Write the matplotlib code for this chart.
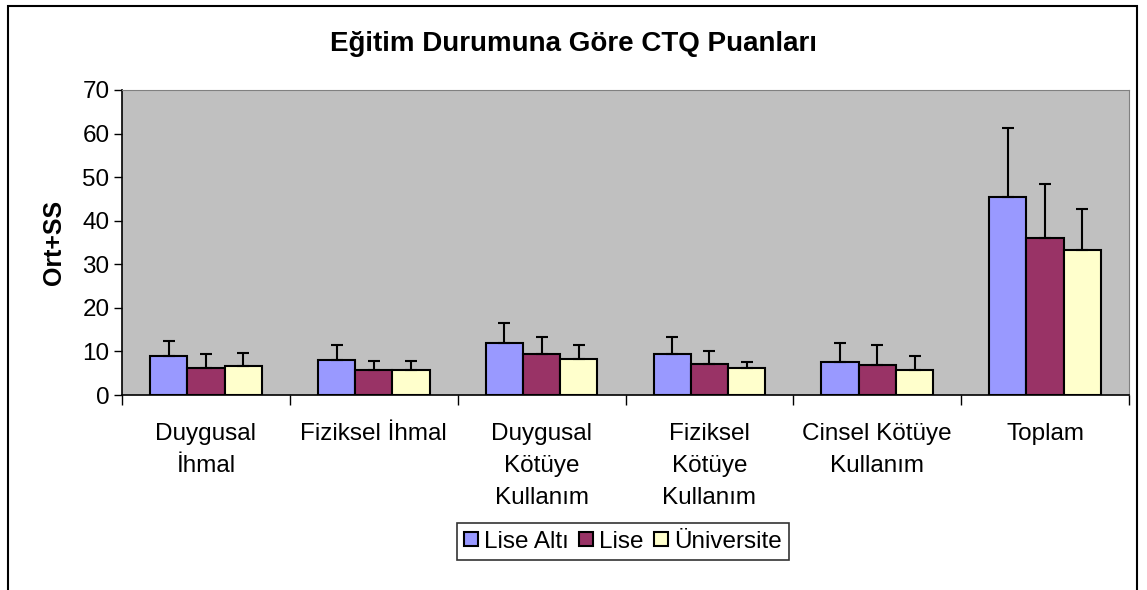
import numpy as np
import matplotlib
matplotlib.use("Agg")
from matplotlib import pyplot as plt
from matplotlib.patches import Rectangle

plt.rcParams['font.family'] = ['Liberation Sans', 'DejaVu Sans']

categories = ["Duygusal\nİhmal", "Fiziksel İhmal", "Duygusal\nKötüye\nKullanım",
              "Fiziksel\nKötüye\nKullanım", "Cinsel Kötüye\nKullanım", "Toplam"]
groups = ["Lise Altı", "Lise", "Üniversite"]
colors = ["#9999FF", "#993366", "#FFFFCC"]

lise_alti = [8.9, 8.0, 11.9, 9.3, 7.5, 45.4]
lise = [6.1, 5.7, 9.3, 7.1, 7.0, 36.0]
universite = [6.7, 5.7, 8.3, 6.2, 5.7, 33.3]

lise_alti_ss = [3.5, 3.5, 4.6, 4.1, 4.5, 15.9]
lise_ss = [3.2, 2.2, 4.1, 3.0, 4.5, 12.4]
universite_ss = [2.9, 2.2, 3.2, 1.3, 3.2, 9.5]

means = [lise_alti, lise, universite]
sds = [lise_alti_ss, lise_ss, universite_ss]

fig = plt.figure(figsize=(11.47, 5.90), dpi=100)
ax = fig.add_axes([0.1064, 0.3305, 0.8779, 0.517])
ax.set_facecolor("#C0C0C0")

x = np.arange(len(categories))
w = 0.222
for i in range(3):
    pos = x + (i - 1) * w
    ax.bar(pos, means[i], w, color=colors[i], edgecolor="black", linewidth=1.5,
           label=groups[i], zorder=2)
    ax.errorbar(pos, means[i], yerr=[np.zeros(len(x)), sds[i]], fmt="none",
                ecolor="black", elinewidth=1.5, capsize=4.5, capthick=1.5, zorder=3)

ax.set_xlim(-0.5, len(categories) - 0.5)
ax.set_ylim(0, 70)
ax.set_yticks(range(0, 71, 10))
ax.tick_params(axis="y", labelsize=17.5, direction="out", length=6, width=1, pad=3)
ax.set_xticks(x)
ax.set_xticklabels(categories, fontsize=17.5, linespacing=1.6, va="top")
ax.tick_params(axis="x", length=0, pad=20)
ax.set_xticks(np.arange(-0.5, len(categories)), minor=True)
ax.tick_params(axis="x", which="minor", direction="out", length=7, width=1)

for s in ["top", "right"]:
    ax.spines[s].set_color("#808080")
for s in ["left", "bottom"]:
    ax.spines[s].set_color("black")
    ax.spines[s].set_linewidth(1.2)

ax.set_ylabel("Ort+SS", fontsize=18, fontweight="bold", labelpad=12)
fig.text(0.5, 0.925, "Eğitim Durumuna Göre CTQ Puanları", ha="center", va="center",
         fontsize=20, fontweight="bold")

leg = fig.legend(loc="center", bbox_to_anchor=(0.543, 0.082), ncol=3, fontsize=17.5,
                 frameon=True, fancybox=False, edgecolor="black", handlelength=0.55,
                 handleheight=0.55, handletextpad=0.25, columnspacing=0.45,
                 borderpad=0.3)
leg.get_frame().set_linewidth(1.2)

fig.patches.append(Rectangle((8 / 1147, -0.05), 1129 / 1147, 1.05 - 6 / 590,
                             transform=fig.transFigure, fill=False,
                             edgecolor="black", linewidth=1.5))

fig.savefig("out.png", dpi=100)
